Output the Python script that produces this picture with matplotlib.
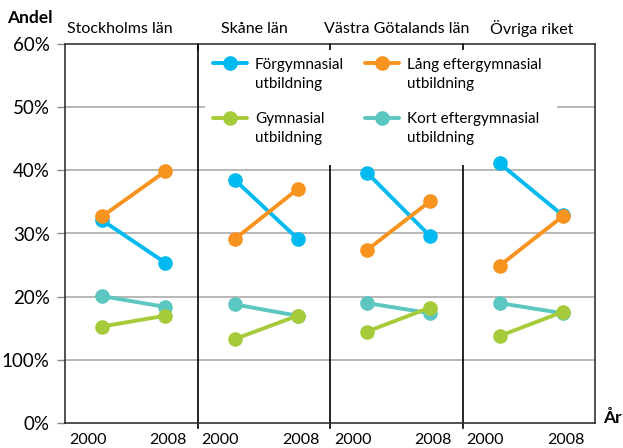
import matplotlib.pyplot as plt
from matplotlib.patches import Rectangle
from matplotlib.legend_handler import HandlerLine2D

plt.rcParams['font.family'] = ['Lato', 'DejaVu Sans']

regions = ['Stockholms län', 'Skåne län', 'Västra Götalands län', 'Övriga riket']
years = [2000, 2008]

# andel (%) per region, [2000, 2008]
forgymnasial = [[32.1, 25.4], [38.5, 29.2], [39.6, 29.6], [41.1, 32.9]]
gymnasial = [[15.3, 17.0], [13.3, 17.0], [14.5, 18.3], [13.8, 17.6]]
kort_efter = [[20.1, 18.4], [18.8, 17.0], [19.0, 17.4], [19.0, 17.4]]
lang_efter = [[32.7, 39.8], [29.1, 37.0], [27.4, 35.1], [24.9, 32.7]]

series = [
    ('Förgymnasial\nutbildning', forgymnasial, '#00b9f0'),
    ('Kort eftergymnasial\nutbildning', kort_efter, '#5cc6c0'),
    ('Lång eftergymnasial\nutbildning', lang_efter, '#f7931e'),
    ('Gymnasial\nutbildning', gymnasial, '#a6cb3a'),
]

ytick_vals = [0, 10, 20, 30, 40, 50, 60]
ytick_labels = ['0%', '100%', '20%', '30%', '40%', '50%', '60%']


def xpos(panel, year):
    return panel + 0.28 + (year - 2000) / 8 * 0.475


class FirstLineHandler(HandlerLine2D):
    # put the legend symbol next to the first text line
    def create_artists(self, legend, orig_handle, xdescent, ydescent,
                       width, height, fontsize, trans):
        return super().create_artists(legend, orig_handle, xdescent,
                                      ydescent - 1.45 * fontsize, width, height,
                                      fontsize, trans)


fig = plt.figure(figsize=(6.23, 4.48), dpi=100)
ax = fig.add_axes([65 / 623, 1 - 423.3 / 448, 530 / 623, 379.6 / 448])
ax.set_xlim(0, 4)
ax.set_ylim(0, 60)

for v in ytick_vals[1:-1]:
    ax.axhline(v, color='#ababab', lw=1.2, zorder=1)
for p in [1, 2, 3]:
    ax.axvline(p, ymin=-0.012, color='black', lw=1.2, zorder=2, clip_on=False)

handles = {}
for label, data, color in series:
    for i, vals in enumerate(data):
        xs = [xpos(i, y) for y in years]
        line, = ax.plot(xs, vals, color=color, lw=2.8, marker='o', ms=9.5,
                        solid_capstyle='round', zorder=5, label=label)
    handles[label] = line

# white box behind the legend
ax.add_patch(Rectangle((140 / 530, (423.3 - 165) / 379.6), 352 / 530, 1,
                       transform=ax.transAxes, facecolor='white', edgecolor='none',
                       zorder=4, clip_on=True))

order = ['Förgymnasial\nutbildning', 'Gymnasial\nutbildning',
         'Lång eftergymnasial\nutbildning', 'Kort eftergymnasial\nutbildning']
leg = ax.legend([handles[k] for k in order], order, ncol=2, frameon=False,
                loc='upper left', bbox_to_anchor=(138 / 530, 1 - 4 / 379.6),
                fontsize=11, handlelength=2.2, handletextpad=0.55,
                columnspacing=1.4, labelspacing=1.4, borderaxespad=0.25,
                handler_map={plt.Line2D: FirstLineHandler()})
for t in leg.get_texts():
    t.set_linespacing(1.45)
leg.set_zorder(6)

for s in ax.spines.values():
    s.set_color('#333333')
    s.set_linewidth(1.2)
    s.set_zorder(7)

ax.set_yticks(ytick_vals)
ax.set_yticklabels(ytick_labels, fontsize=13.5)
ax.tick_params(axis='y', length=6, width=1, color='#888888', pad=5)

ax.set_xticks([1, 2, 3])
ax.set_xticklabels([])
ax.tick_params(axis='x', which='major', direction='in', length=4, width=1.2,
               top=True, bottom=False, color='black')
label_pos = []
label_txt = []
for i in range(4):
    label_pos += [i + 0.17, i + 0.78]
    label_txt += [str(y) for y in years]
ax.set_xticks(label_pos, minor=True)
ax.set_xticklabels(label_txt, minor=True, fontsize=11.5)
ax.tick_params(axis='x', which='minor', length=0, pad=7)
ax.xaxis.set_zorder(7)

title_x = [0.41, 1.43, 2.5, 3.52]
for tx, name in zip(title_x, regions):
    ax.text(tx, 1.04, name, transform=ax.get_xaxis_transform(), ha='center',
            va='center', fontsize=11.5)

fig.text(7 / 623, 1 - 18 / 448, 'Andel', fontsize=12.5, fontweight='bold',
         ha='left', va='center')
fig.text(603 / 623, 1 - 418 / 448, 'År', fontsize=12.5, fontweight='bold',
         ha='left', va='center')

fig.savefig('out.png', dpi=100)
